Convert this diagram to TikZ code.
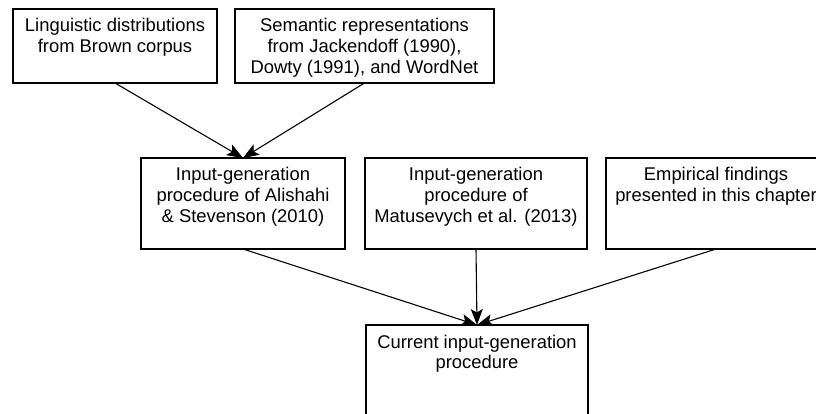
\documentclass[tikz,border=0pt]{standalone}
\usepackage{fontspec}
\setmainfont{Liberation Sans}
\usetikzlibrary{arrows.meta}
\newcommand{\boxtxt}[3]{\parbox[c][#2pt][t]{#1pt}{\centering\fontsize{18.4}{20.7}\selectfont\rule{0pt}{23pt}#3}}
\tikzset{
  stagebox/.style={draw, line width=1.1pt, inner sep=0pt, outer sep=0pt, anchor=north west},
  arr/.style={-{Stealth[length=16pt,width=12pt,inset=3.5pt]}, line width=1.1pt}
}
\begin{document}
\begin{tikzpicture}[x=1pt,y=-1pt]
\clip (0,0) rectangle (816,414);
\fill[white] (0,0) rectangle (816,414);
\node[stagebox] (b1) at (13,9) {\boxtxt{204}{74}{Linguistic distributions\\from Brown corpus}};
\node[stagebox] (b2) at (235,9) {\boxtxt{259}{74}{Semantic representations\\from Jackendoff (1990),\\Dowty (1991), and WordNet}};
\node[stagebox] (b3) at (141,158) {\boxtxt{204}{91}{Input-generation\\procedure of Alishahi\\\& Stevenson (2010)}};
\node[stagebox] (b4) at (365,158) {\boxtxt{222}{91}{Input-generation\\procedure of\\Matusevych et al. (2013)}};
\node[stagebox] (b5) at (606,158) {\boxtxt{220}{91}{Empirical findings\\presented in this chapter}};
\node[stagebox] (b6) at (366,325) {\boxtxt{222}{92}{Current input-generation\\procedure}};
\draw[arr] (b1.south) -- (b3.north);
\draw[arr] (b2.south) -- (b3.north);
\draw[arr] (b3.south) -- (b6.north);
\draw[arr] (b4.south) -- (b6.north);
\draw[arr] (b5.south) -- (b6.north);
\end{tikzpicture}
\end{document}
